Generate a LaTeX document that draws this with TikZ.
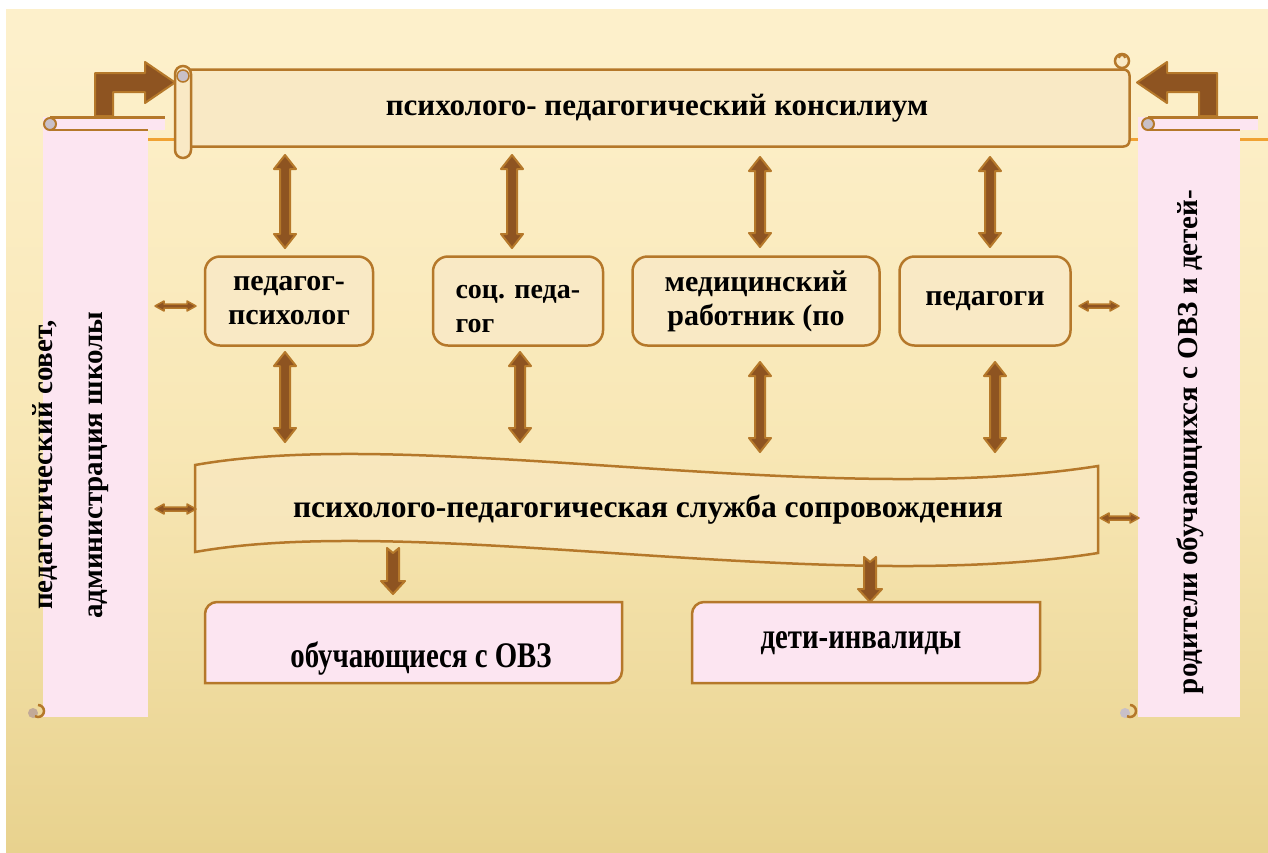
\documentclass[tikz,border=0pt]{standalone}
\usepackage{fontspec}
\setmainfont{Liberation Serif}
\newfontfamily\condfont{Liberation Serif}[FakeStretch=0.8]
\definecolor{brd}{HTML}{B5782A}
\definecolor{dkb}{HTML}{8E5421}
\definecolor{beige}{HTML}{F9E9C5}
\definecolor{pinkf}{HTML}{FCE5F1}
\definecolor{bgtop}{HTML}{FDF0CB}
\definecolor{bgmid}{HTML}{F8E7B5}
\definecolor{bgbot}{HTML}{E8D28E}
\definecolor{orng}{HTML}{F0A232}
\definecolor{curlg}{HTML}{C8C0C8}
\newcommand\VDArrow[3]{%
 \draw[blk] (#1-5,#2+14) -- (#1-11,#2+14) -- (#1,#2) -- (#1+11,#2+14) -- (#1+5,#2+14)
  -- (#1+5,#3-14) -- (#1+11,#3-14) -- (#1,#3) -- (#1-11,#3-14) -- (#1-5,#3-14) -- cycle;}
\newcommand\VSArrow[3]{%
 \draw[blk] (#1-6,#2) -- (#1,#2+5) -- (#1+6,#2) -- (#1+6,#3-13) -- (#1+12,#3-13) -- (#1,#3)
  -- (#1-12,#3-13) -- (#1-6,#3-13) -- cycle;}
\newcommand\HDArrow[3]{%
 \draw[blk,line width=1.5pt] (#2+9,#1-2) -- (#2+9,#1-5) -- (#2,#1) -- (#2+9,#1+5) -- (#2+9,#1+2)
  -- (#3-9,#1+2) -- (#3-9,#1+5) -- (#3,#1) -- (#3-9,#1-5) -- (#3-9,#1-2) -- cycle;}
\begin{document}
\begin{tikzpicture}[x=1pt,y=-1pt,
  blk/.style={fill=dkb,draw=brd,line width=2pt,line join=round},
  scr/.style={draw=brd,line width=2.5pt},
  mbox/.style={draw=brd,fill=beige,line width=2.5pt,rounded corners=15pt,
    minimum height=89pt,font=\fontsize{30}{34}\selectfont\bfseries,align=center},
  btxt/.style={font=\fontsize{31.5}{36}\selectfont\bfseries},
  vtxt/.style={font=\fontsize{29}{50}\selectfont\bfseries,rotate=90,align=center},
  ctxt/.style={font=\fontsize{36}{40}\condfont\bfseries}]
\useasboundingbox (0,0) rectangle (1268,852);
\fill[white] (0,0) rectangle (1268,852);
\fill[bgtop] (6,9) rectangle (1268,45);
\shade[top color=bgtop,bottom color=bgbot,middle color=bgmid] (6,45) rectangle (1268,852);
\draw[orng,line width=3pt] (100,139) -- (1268,139);
% bent arrows
\draw[blk] (95,116) -- (95,73) -- (145,73) -- (145,62) -- (175,82.5) -- (145,103) -- (145,92) -- (113,92) -- (113,116) -- cycle;
\draw[blk] (1217,116) -- (1217,73) -- (1167,73) -- (1167,62) -- (1137,82.5) -- (1167,103) -- (1167,92) -- (1199,92) -- (1199,116) -- cycle;
% top scroll
\node[scr,fill=beige,minimum width=945pt,minimum height=77pt,rounded corners=6pt,
  font=\fontsize{31}{36}\selectfont\bfseries] (pmpk) at (657,108) {психолого- педагогический консилиум};
\draw[scr,fill=beige,rounded corners=8pt] (175,66) rectangle (191,158);
\draw[brd,line width=1.5pt,fill=curlg] (183,76) circle (6);
\draw[scr,fill=beige] (1122,61) circle (7);
\draw[brd,line width=2pt] (1119,58) arc (180:360:3);
% left scroll
\fill[pinkf] (43,118) rectangle (148,717);
\fill[pinkf] (43,117) rectangle (165,130);
\draw[brd,line width=3pt] (50,117.5) -- (165,117.5);
\draw[brd,line width=2.5pt] (50,130) -- (148,130);
\draw[brd,line width=2pt,fill=curlg] (50,124) circle (6);
\fill[curlg!70!brd] (33,713) circle (5);
\draw[brd,line width=2.5pt] (38,705) arc (-90:120:6);
% right scroll
\fill[pinkf] (1138,118) rectangle (1240,717);
\fill[pinkf] (1138,117) rectangle (1258,130);
\draw[brd,line width=3pt] (1148,117.5) -- (1258,117.5);
\draw[brd,line width=2.5pt] (1148,130) -- (1240,130);
\draw[brd,line width=2pt,fill=curlg] (1148,124) circle (6);
\fill[curlg] (1125,713) circle (5);
\draw[brd,line width=2.5pt] (1130,705) arc (-90:120:6);
% vertical texts
\node[vtxt] (sovet) at (71,465) {педагогический совет,\\администрация  школы};
\node[vtxt] (rodit) at (1190,442) {родители обучающихся с ОВЗ и детей-};
% middle boxes
\node[mbox,minimum width=168pt] (ped) at (289,301) {педагог-\\психолог};
\node[mbox,minimum width=170pt] (soc) at (518,301) {};
\node[anchor=west,align=left,font=\fontsize{28}{34}\selectfont\bfseries] (soctxt) at (452,309) {соц. педа-\\гог};
\node[mbox,minimum width=247pt] (med) at (756,301) {медицинский\\работник (по};
\node[mbox,minimum width=171pt] (pedg) at (985,301) {педагоги};
% wavy band
\draw[scr,fill=beige,fill opacity=0.6,draw opacity=1] (195,465) .. controls (420,425) and (820,510) .. (1098,466)
  -- (1098,553) .. controls (820,597) and (420,512) .. (195,552) -- cycle;
\node[btxt] (sluzh) at (648,510) {психолого-педагогическая служба сопровождения};
% bottom boxes
\draw[scr,fill=pinkf] (205,683) -- (205,614) arc (180:270:12) -- (622,602) -- (622,671) arc (0:90:12) -- cycle;
\node[ctxt] (ovz) at (421,658) {обучающиеся с ОВЗ};
\draw[scr,fill=pinkf] (692,683) -- (692,614) arc (180:270:12) -- (1040,602) -- (1040,671) arc (0:90:12) -- cycle;
\node[ctxt] (inv) at (861,643) {дети-инвалиды};
% arrows
\VDArrow{285}{155}{248}
\VDArrow{512}{155}{248}
\VDArrow{760}{157}{247}
\VDArrow{990}{157}{247}
\VDArrow{285}{352}{442}
\VDArrow{520}{352}{442}
\VDArrow{760}{362}{452}
\VDArrow{995}{362}{452}
\VSArrow{393}{548}{594}
\VSArrow{870}{557}{602}
\HDArrow{306}{155}{196}
\HDArrow{509}{155}{196}
\HDArrow{306}{1079}{1119}
\HDArrow{518}{1100}{1139}
\end{tikzpicture}
\end{document}
